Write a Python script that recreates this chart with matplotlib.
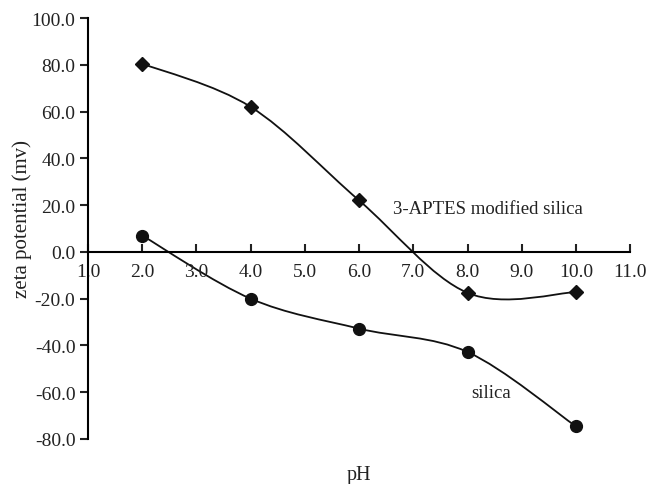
import matplotlib
matplotlib.use("Agg")
import matplotlib.pyplot as plt
from matplotlib.path import Path
from matplotlib.patches import PathPatch

plt.rcParams['font.family'] = ['Liberation Serif', 'DejaVu Serif']

ph = [2.0, 4.0, 6.0, 8.0, 10.0]
aptes = [80.5, 62.0, 22.0, -17.5, -17.2]
silica = [7.0, -20.0, -32.8, -42.8, -74.6]

x_ticks = [1.0, 2.0, 3.0, 4.0, 5.0, 6.0, 7.0, 8.0, 9.0, 10.0, 11.0]
y_ticks = [-80.0, -60.0, -40.0, -20.0, 0.0, 20.0, 40.0, 60.0, 80.0, 100.0]


def smooth_path(xs, ys):
  # excel-like smoothed line: cubic bezier, control points at 1/6 of neighbour span
  n = len(xs)
  verts = [(xs[0], ys[0])]
  codes = [Path.MOVETO]
  for i in range(n - 1):
    a = max(i - 1, 0)
    b = min(i + 2, n - 1)
    c1 = (xs[i] + (xs[i + 1] - xs[a]) / 6, ys[i] + (ys[i + 1] - ys[a]) / 6)
    c2 = (xs[i + 1] - (xs[b] - xs[i]) / 6, ys[i + 1] - (ys[b] - ys[i]) / 6)
    verts += [c1, c2, (xs[i + 1], ys[i + 1])]
    codes += [Path.CURVE4] * 3
  return Path(verts, codes)


fig = plt.figure(figsize=(6.47, 4.85), dpi=100)
ax = fig.add_axes([0.136, 0.0928, 0.838, 0.868])

for ys, mk, ms in [(aptes, 'D', 7.5), (silica, 'o', 8.5)]:
  ax.add_patch(PathPatch(smooth_path(ph, ys), fill=False, color='#111111', lw=1.3))
  ax.plot(ph, ys, ls='none', marker=mk, ms=ms, color='#111111')

ax.set_xlim(1.0, 11.0)
ax.set_ylim(-80.0, 100.0)
ax.spines['top'].set_visible(False)
ax.spines['right'].set_visible(False)
ax.spines['bottom'].set_position(('data', 0))
ax.spines['left'].set_linewidth(1.5)
ax.spines['bottom'].set_linewidth(1.5)

ax.set_xticks(x_ticks)
ax.set_xticklabels(['%.1f' % v for v in x_ticks])
ax.set_yticks(y_ticks)
ax.set_yticklabels(['%.1f' % v for v in y_ticks])
ax.tick_params(axis='x', direction='in', length=6, width=1.5, labelsize=14, pad=8)
ax.tick_params(axis='y', direction='out', length=6, width=1.5, labelsize=14, pad=3)
ax.tick_params(colors='#222222')

ax.set_xlabel('pH', fontsize=14.5, color='#222222')
ax.xaxis.set_label_coords(0.5, -0.062)
ax.set_ylabel('zeta potential (mv)', fontsize=15, color='#222222')
ax.yaxis.set_label_coords(-0.103, 0.525)

ax.text(6.63, 18.5, '3-APTES modified silica', fontsize=13.5, va='center', color='#222222')
ax.text(8.06, -60.0, 'silica', fontsize=13.5, va='center', color='#222222')

fig.savefig('out.png', dpi=100)
